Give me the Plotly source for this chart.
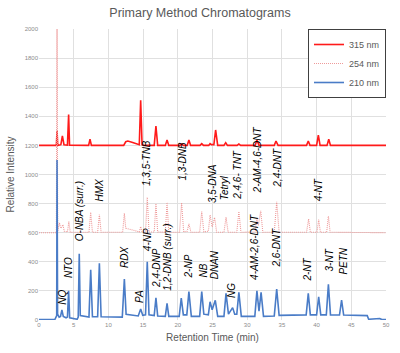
import plotly.graph_objects as go

# ---------------- data ----------------
t_315 = [0, 2.5, 2.6, 2.7, 3.15, 3.37, 3.6, 4.1, 4.27, 4.4, 7.15, 7.35, 7.55,
         12.2, 12.5, 12.8, 13.5, 14.2, 14.45, 14.65, 14.85, 15.2, 16.6, 16.85, 17.1,
         18.2, 18.45, 18.7, 20.3, 20.55, 20.8, 21.35, 21.6, 21.85, 23.2, 23.45, 23.7,
         24.45, 24.65, 24.85, 25.2, 25.45, 25.75, 26.65, 26.9, 27.15, 28.55, 28.8, 29.05,
         31.15, 31.4, 31.7, 33.9, 34.15, 34.45, 38.55, 38.8, 39.05, 40.0, 40.25, 40.5,
         41.5, 41.75, 42.0, 50]
i_315 = [1200, 1200, 1300, 1200, 1205, 1265, 1205, 1202, 1412, 1202, 1200, 1242, 1200,
         1200, 1225, 1230, 1220, 1212, 1205, 1510, 1205, 1200, 1200, 1333, 1200,
         1200, 1237, 1200, 1200, 1210, 1200, 1200, 1237, 1200, 1200, 1212, 1200,
         1200, 1212, 1205, 1205, 1306, 1200, 1200, 1219, 1200, 1200, 1210, 1200,
         1200, 1237, 1200, 1200, 1230, 1200, 1200, 1230, 1200, 1200, 1271, 1200,
         1200, 1242, 1200, 1200]

t_254 = [0, 2.5, 2.6, 2.7, 2.95, 3.15, 3.45, 3.65, 4.1, 4.3, 4.5, 7.2, 7.45, 7.7,
         8.45, 8.7, 8.95, 12.05, 12.3, 12.5, 13.0, 14.0, 14.45, 14.65, 14.85, 15.35, 15.6,
         15.85, 16.6, 16.85, 17.1, 18.2, 18.45, 18.7, 20.25, 20.55, 20.85, 21.35, 21.6,
         21.9, 23.15, 23.45, 23.75, 24.4, 24.65, 24.95, 25.3, 25.6, 26.65, 26.95, 27.25,
         28.5, 28.8, 29.1, 31.15, 31.4, 31.6, 31.95, 32.25, 33.9, 34.25, 34.6, 38.55,
         38.85, 39.1, 40.05, 40.3, 40.55, 41.45, 41.7, 41.95, 50]
i_254 = [600, 600, 2000, 610, 668, 630, 655, 610, 605, 676, 603, 603, 740, 603,
         603, 725, 603, 603, 733, 630, 625, 610, 605, 642, 605, 605, 843,
         605, 605, 800, 605, 603, 808, 603, 603, 806, 605, 610, 660,
         603, 603, 746, 605, 610, 722, 640, 705, 603, 603, 705, 603,
         603, 746, 603, 605, 700, 650, 750, 603, 603, 813, 603, 603,
         695, 603, 603, 690, 603, 603, 715, 603, 600]

t_210 = [0, 2.3, 2.45, 2.55, 2.6, 2.68, 2.9, 3.1, 3.3, 3.5, 3.9, 4.1, 4.27, 4.42,
         5.5, 5.65, 5.8, 5.95, 7.2, 7.45, 7.7, 8.45, 8.7, 8.95, 12.0, 12.3, 12.55,
         14.3, 14.65, 14.95, 15.35, 15.6, 15.85, 16.6, 16.85, 17.1, 18.2, 18.45, 18.7,
         20.2, 20.5, 20.8, 21.3, 21.6, 21.95, 23.15, 23.45, 23.75, 24.4, 24.65, 24.95,
         25.4, 25.75, 26.65, 26.95, 27.3, 27.9, 28.2, 28.5, 28.8, 29.15, 31.1, 31.4,
         31.7, 32.0, 32.35, 33.9, 34.25, 34.6, 38.5, 38.8, 39.1, 40.0, 40.3, 40.6,
         41.4, 41.7, 42.0, 43.3, 43.6, 43.9, 47.3, 47.5, 48.8, 49.1, 49.4, 50]
i_210 = [3, 5, 20, 30, 1100, 40, 20, 25, 70, 25, 15, 20, 200, 15,
         5, 20, 455, 30, 20, 345, 22, 22, 390, 22, 20, 282, 40,
         28, 75, 32, 35, 400, 35, 30, 153, 28, 25, 115, 25,
         25, 150, 35, 35, 195, 25, 25, 195, 40, 35, 125, 70,
         135, 25, 25, 183, 40, 85, 40, 40, 190, 25, 25, 200,
         60, 190, 25, 28, 213, 32, 35, 183, 35, 35, 160, 35,
         35, 245, 35, 34, 137, 34, 30, 5, 5, 10, 3, 3]

labels = ["NQ", "NTO", "O-NBA (surr.)", "HMX", "1,3,5-TNB", "RDX", "PA", "4-NP",
          "2,4-DNP", "1,2-DNB (surr.)", "1,3-DNB", "2-NP", "NB", "DNAN", "3,5-DNA",
          "Tetryl", "2,4,6- TNT", "NG", "2-AM-4,6-DNT", "4-AM-2,6-DNT", "2,4-DNT",
          "2,6-DNT", "4-NT", "2-NT", "3-NT", "PETN"]
label_t = [3.33, 4.27, 5.79, 8.78, 15.42, 12.33, 14.47, 15.65, 16.84, 18.49, 20.63,
           21.68, 23.71, 25.23, 24.99, 26.66, 28.69, 27.74, 31.54, 31.15, 34.24,
           34.24, 40.31, 38.65, 41.88, 43.87]
label_y = [89, 275, 529, 804, 907, 344, 103, 460, 206, 186, 942, 275, 275, 263,
           790, 806, 813, 137, 859, 263, 893, 344, 804, 252, 321, 298]

x_ticks = list(range(0, 51, 5))
y_ticks = list(range(0, 2001, 200))

# ---------------- figure ----------------
fig = go.Figure()
fig.add_trace(go.Scatter(x=t_315, y=i_315, mode="lines", name="315 nm",
                         line=dict(color="#ff1a1a", width=1.6)))
fig.add_trace(go.Scatter(x=t_254, y=i_254, mode="lines", name="254 nm",
                         line=dict(color="#ee9a9a", width=1.1, dash="1px,1px")))
fig.add_trace(go.Scatter(x=t_210, y=i_210, mode="lines", name="210 nm",
                         line=dict(color="#4a7cc7", width=1.6)))

for txt, tx, ty in zip(labels, label_t, label_y):
    fig.add_annotation(x=tx, y=ty, text=txt, showarrow=False, textangle=-90,
                       xanchor="center", yanchor="bottom",
                       font=dict(family="Liberation Sans", size=10, color="black",
                                 style="italic"))

fig.update_layout(
    width=400, height=353,
    margin=dict(l=38, r=10, t=29, b=33),
    paper_bgcolor="white", plot_bgcolor="white",
    title=dict(text="Primary Method Chromatograms", x=0.5, xanchor="center",
               y=1 - 13 / 353, yanchor="middle",
               font=dict(family="Liberation Sans", size=12.5, color="#595959")),
    legend=dict(x=1, xanchor="right", y=1, yanchor="top",
                bgcolor="white", bordercolor="#404040", borderwidth=1,
                font=dict(family="Liberation Sans", size=9, color="#595959"),
                itemwidth=30),
    showlegend=True,
)
fig.update_xaxes(range=[0, 50], tickvals=x_ticks, showgrid=True, gridcolor="#e0e0e0",
                 gridwidth=1, zeroline=False, showline=False, ticks="",
                 tickfont=dict(family="Liberation Sans", size=6, color="#8c8c8c"),
                 title=dict(text="Retention Time (min)", standoff=6,
                            font=dict(family="Liberation Sans", size=10, color="#595959")))
fig.update_yaxes(range=[0, 2000], tickvals=y_ticks, showgrid=True, gridcolor="#e0e0e0",
                 gridwidth=1, zeroline=False, showline=False, ticks="",
                 tickfont=dict(family="Liberation Sans", size=6, color="#8c8c8c"),
                 title=dict(text="Relative Intensity", standoff=8,
                            font=dict(family="Liberation Sans", size=10, color="#595959")))

fig.write_html("out.html")
